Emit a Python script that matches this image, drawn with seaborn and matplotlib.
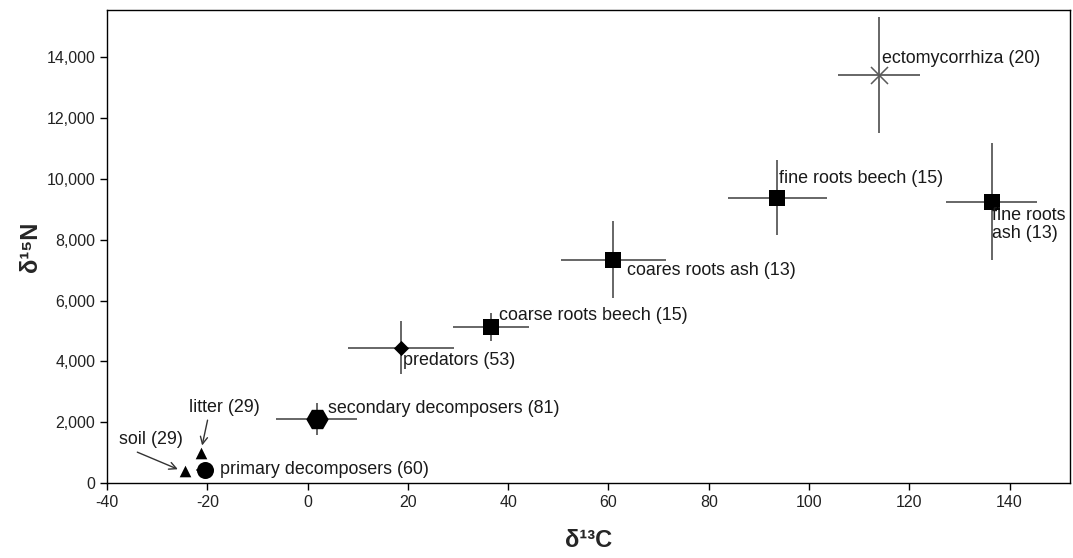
import matplotlib
matplotlib.use("Agg")
import matplotlib.pyplot as plt
import seaborn as sns
import pandas as pd
from matplotlib.ticker import FuncFormatter, MultipleLocator

# ---- data ----
groups = ["soil (29)", "litter (29)", "primary decomposers (60)",
          "secondary decomposers (81)", "predators (53)",
          "coarse roots beech (15)", "coares roots ash (13)",
          "fine roots beech (15)", "fine roots\nash (13)",
          "ectomycorrhiza (20)"]
d13C = [-24.5, -21.2, -20.5, 1.8, 18.7, 36.6, 61.0, 93.7, 136.4, 114.0]
d15N = [380, 980, 440, 2100, 4450, 5130, 7350, 9390, 9260, 13430]
sd_C = [0.0, 0.0, 1.8, 8.0, 10.6, 7.6, 10.5, 9.9, 9.1, 8.2]
sd_N = [0, 0, 0, 520, 880, 465, 1270, 1225, 1915, 1900]
kinds = ["soil", "litter", "primary", "secondary", "predators",
         "coarse_beech", "coarse_ash", "fine_beech", "fine_ash", "ecto"]

df = pd.DataFrame({"group": groups, "kind": kinds, "d13C": d13C,
                   "d15N": d15N, "sdC": sd_C, "sdN": sd_N})

sns.set_theme(style="ticks")
plt.rcParams["font.family"] = ["Liberation Sans", "DejaVu Sans"]
plt.rcParams["axes.unicode_minus"] = False

fig = plt.figure(figsize=(10.73, 5.58), dpi=100)
ax = fig.add_axes([0.0997, 0.1344, 0.8973, 0.8476])

# error bars
ax.errorbar(df["d13C"], df["d15N"], xerr=df["sdC"], yerr=df["sdN"],
            fmt="none", ecolor="#5a5a5a", elinewidth=1.3, capsize=0, zorder=1)

marker_map = {"soil": "^", "litter": "^", "primary": "o", "secondary": "H",
              "predators": "D", "coarse_beech": "s", "coarse_ash": "s",
              "fine_beech": "s", "fine_ash": "s", "ecto": "X"}
sizes = {"soil": 70, "litter": 70, "primary": 150, "secondary": 260,
         "predators": 60, "coarse_beech": 130, "coarse_ash": 130,
         "fine_beech": 130, "fine_ash": 130}

sub = df[df["kind"] != "ecto"]
for k, g in sub.groupby("kind", sort=False):
    sns.scatterplot(data=g, x="d13C", y="d15N", marker=marker_map[k],
                    s=sizes[k], color="black", edgecolor="black",
                    linewidth=0, ax=ax, zorder=3, legend=False)
ecto = df[df["kind"] == "ecto"]
sns.scatterplot(data=ecto, x="d13C", y="d15N", marker="x", s=150,
                color="#5a5a5a", linewidth=1.1, ax=ax, zorder=3, legend=False)

# point labels (offsets in points)
offsets = {"primary": (11, 0, "left", "center"),
           "secondary": (8, 8, "left", "center"),
           "predators": (1.5, -9.5, "left", "center"),
           "coarse_beech": (6, 8, "left", "center"),
           "coarse_ash": (10, -7.5, "left", "center"),
           "fine_beech": (1, 14, "left", "center"),
           "fine_ash": (0, -4, "left", "top"),
           "ecto": (2, 12, "left", "center")}
LBL = 12.9
for _, r in df.iterrows():
    if r["kind"] in offsets:
        dx, dy, ha, va = offsets[r["kind"]]
        ax.annotate(r["group"], (r["d13C"], r["d15N"]), xytext=(dx, dy),
                    textcoords="offset points", ha=ha, va=va,
                    fontsize=LBL, color="#1a1a1a", linespacing=1.05,
                    zorder=4)

# arrow annotations
soil = df[df["kind"] == "soil"].iloc[0]
litter = df[df["kind"] == "litter"].iloc[0]
ax.annotate(soil["group"], (soil["d13C"] - 0.6, soil["d15N"] + 20),
            xytext=(-31.3, 1420), textcoords="data", ha="center", va="center",
            fontsize=LBL, color="#1a1a1a",
            arrowprops=dict(arrowstyle="->", color="#333333", lw=1.0,
                            relpos=(0.15, 0.0), shrinkA=1, shrinkB=3))
ax.annotate(litter["group"], (litter["d13C"], litter["d15N"] + 120),
            xytext=(-16.5, 2500), textcoords="data", ha="center", va="center",
            fontsize=LBL, color="#1a1a1a",
            arrowprops=dict(arrowstyle="->", color="#333333", lw=1.0,
                            relpos=(0.27, 0.0), shrinkA=1, shrinkB=3))

ax.set_xlim(-40, 152)
ax.set_ylim(0, 15560)
ax.xaxis.set_major_locator(MultipleLocator(20))
ax.yaxis.set_major_locator(MultipleLocator(2000))
ax.yaxis.set_major_formatter(FuncFormatter(lambda v, p: f"{int(v):,}"))
ax.tick_params(axis="both", direction="out", length=5, width=1,
               labelsize=11.5, colors="black", labelcolor="#222222")
for s in ax.spines.values():
    s.set_visible(True)
    s.set_color("black")
    s.set_linewidth(1.0)

ax.set_xlabel("δ¹³C", fontsize=17, fontweight="bold", labelpad=14)
ax.set_ylabel("δ¹⁵N", fontsize=17, fontweight="bold", labelpad=3)
ax.grid(False)

fig.savefig("out.png", dpi=100, facecolor="white")
